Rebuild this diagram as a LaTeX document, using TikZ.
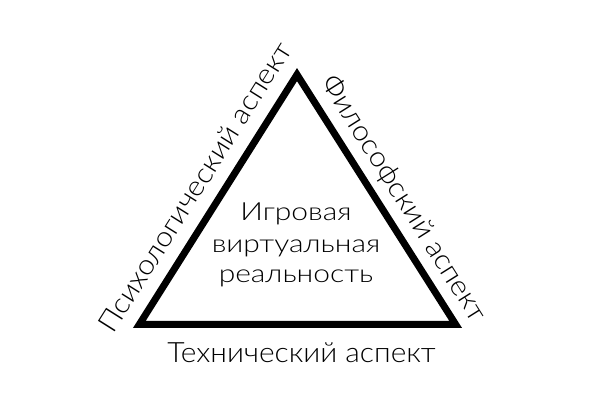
\documentclass[tikz,border=0pt]{standalone}
\usepackage{fontspec}
\setmainfont{Lato}[UprightFont=* Light, FakeStretch=1.07]
\newfontfamily\midfont{Lato}[UprightFont=* Light, FakeStretch=1.2]
\begin{document}
\begin{tikzpicture}[x=1pt,y=1pt,
  tri/.style={line width=7pt, line join=miter, draw=black},
  sidetext/.style={inner sep=0pt, font=\fontsize{28}{32}\selectfont},
  midtext/.style={inner sep=0pt, anchor=base, font=\midfont\fontsize{25}{30}\selectfont}]
\useasboundingbox[fill=white] (0,0) rectangle (591,406);
\coordinate (A) at (297,331.4);
\coordinate (B) at (139.3,81.5);
\coordinate (C) at (455.7,81.5);
\draw[tri] (A) -- (B) -- (C) -- cycle;
\node[sidetext, anchor=base] (tech) at (301.5,43) {Технический аспект};
\node[sidetext, rotate=57.8] (psy) at (195,219) {Психологический аспект};
\node[sidetext, rotate=-57.8] (phil) at (403.5,207) {Философский аспект};
\node[midtext] (l1) at (296,185) {Игровая};
\node[midtext] (l2) at (296,153) {виртуальная};
\node[midtext] (l3) at (296,123) {реальность};
\end{tikzpicture}
\end{document}
